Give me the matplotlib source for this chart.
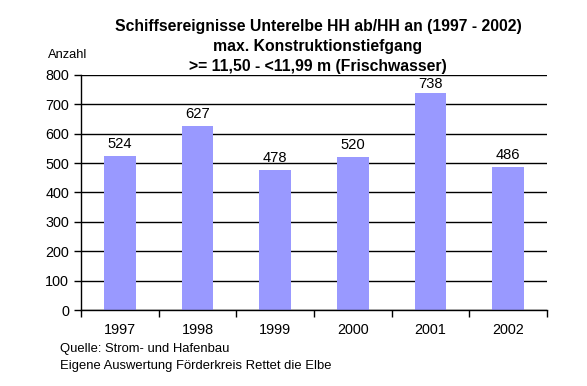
import matplotlib.pyplot as plt
import numpy as np

years = ['1997', '1998', '1999', '2000', '2001', '2002']
counts = [524, 627, 478, 520, 738, 486]
yticks = [0, 100, 200, 300, 400, 500, 600, 700, 800]

plt.rcParams['font.family'] = ['Liberation Sans', 'DejaVu Sans']

fig = plt.figure(figsize=(5.87, 3.86), dpi=100)
ax = fig.add_axes([81 / 587, 76 / 386, 466 / 587, 235 / 386])

x = np.arange(len(years))
ax.bar(x, counts, width=0.41, color='#9999ff', zorder=2)
# labels sit just above the bars, but are kept inside the plot area
for xi, v in zip(x, counts):
    ax.text(xi, min(v + 27, 757), str(v), ha='center', va='baseline', fontsize=10.6)

ax.set_xlim(-0.5, len(years) - 0.5)
ax.set_ylim(0, 800)
ax.set_yticks(yticks)
ax.yaxis.grid(True, color='black', linewidth=1, zorder=1)
ax.set_axisbelow(True)

# ticks between categories, labels centred under bars
ax.set_xticks(np.arange(-0.5, len(years)), minor=False)
ax.set_xticklabels([])
ax.set_xticks(x, minor=True)
ax.set_xticklabels(years, minor=True, fontsize=10.4)
ax.tick_params(axis='x', which='major', direction='out', length=5, width=1)
ax.tick_params(axis='x', which='minor', length=0, pad=9)
ax.tick_params(axis='y', direction='out', length=5, width=1, labelsize=10.4)

for s in ['top', 'right']:
    ax.spines[s].set_visible(False)
ax.spines['left'].set_linewidth(1)
ax.spines['bottom'].set_linewidth(1)

title_lines = ['Schiffsereignisse Unterelbe HH ab/HH an (1997 - 2002)',
               'max. Konstruktionstiefgang',
               '>= 11,50 - <11,99 m (Frischwasser)']
for line, ypix in zip(title_lines, [27, 46, 66]):
    fig.text(318 / 587, 1 - ypix / 386, line,
             ha='center', va='center', fontsize=11.3, fontweight='bold')
fig.text(48 / 587, 1 - 55 / 386, 'Anzahl', ha='left', va='center', fontsize=9.3)
fig.text(60 / 587, 1 - 349 / 386, 'Quelle: Strom- und Hafenbau', ha='left', va='center', fontsize=9.4)
fig.text(60 / 587, 1 - 366 / 386, 'Eigene Auswertung Förderkreis Rettet die Elbe',
         ha='left', va='center', fontsize=9.4)

fig.savefig('out.png', dpi=100)
